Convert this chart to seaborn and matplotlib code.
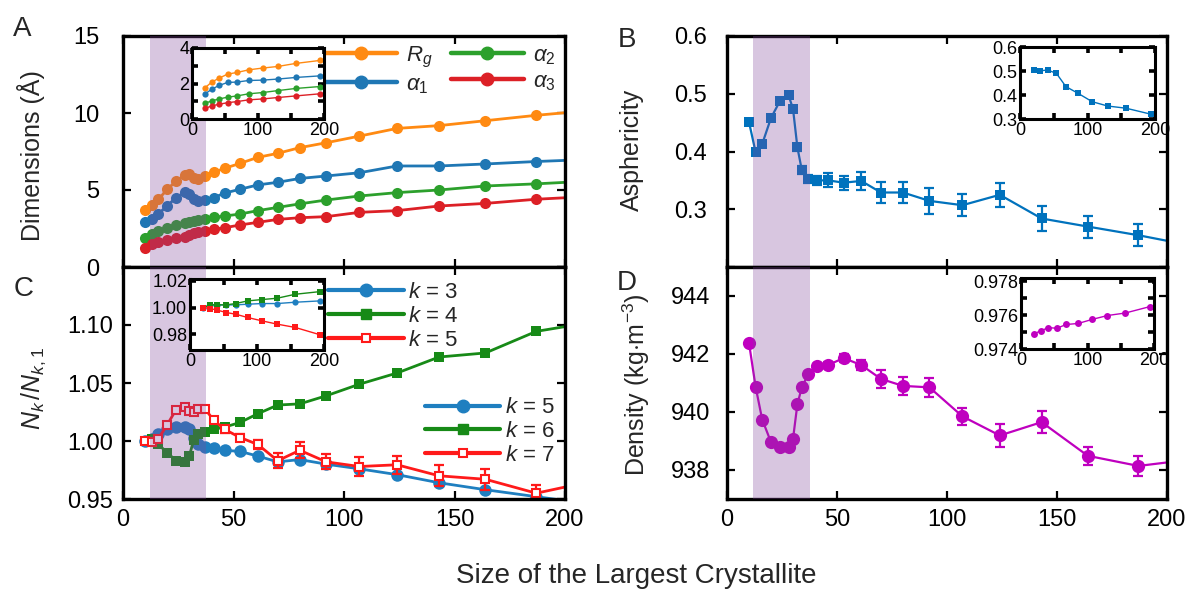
import numpy as np
import pandas as pd
import matplotlib
matplotlib.use("Agg")
import matplotlib.pyplot as plt
import seaborn as sns
from matplotlib.lines import Line2D

# ---------------- data ----------------
size = [10, 13, 16, 20, 24, 28, 30, 32, 34, 37, 41, 46, 53, 61, 70, 80, 92, 107, 124, 143, 164, 187, 214]

# Panel A : dimensions (Angstrom)
rg     = [3.70, 4.03, 4.39, 5.04, 5.58, 5.97, 6.02, 5.76, 5.69, 5.91, 6.15, 6.41, 6.73, 7.12, 7.38, 7.75, 8.07, 8.50, 9.00, 9.18, 9.50, 9.85, 10.20]
alpha1 = [2.94, 3.12, 3.44, 3.98, 4.50, 4.85, 4.74, 4.39, 4.29, 4.35, 4.50, 4.80, 5.05, 5.33, 5.50, 5.75, 5.91, 6.12, 6.56, 6.56, 6.69, 6.85, 7.00]
alpha2 = [1.86, 2.14, 2.36, 2.51, 2.73, 2.88, 2.94, 2.99, 3.05, 3.14, 3.23, 3.31, 3.44, 3.66, 3.87, 4.10, 4.35, 4.61, 4.83, 5.00, 5.26, 5.40, 5.60]
alpha3 = [1.25, 1.49, 1.64, 1.75, 1.86, 1.97, 2.08, 2.19, 2.25, 2.36, 2.45, 2.55, 2.73, 2.90, 3.09, 3.20, 3.27, 3.55, 3.66, 3.96, 4.13, 4.40, 4.60]

# Panel B : asphericity
asph     = [0.451, 0.399, 0.413, 0.458, 0.487, 0.497, 0.474, 0.407, 0.368, 0.353, 0.350, 0.350, 0.346, 0.349, 0.329, 0.329, 0.3145, 0.307, 0.325, 0.284, 0.270, 0.255, 0.235]
asph_err = [0.003, 0.003, 0.004, 0.004, 0.004, 0.004, 0.005, 0.006, 0.007, 0.007, 0.008, 0.012, 0.012, 0.016, 0.019, 0.019, 0.022, 0.019, 0.021, 0.021, 0.019, 0.019, 0.020]

# Panel C : N_k / N_k,1
nk5 = [1.000, 1.002, 1.006, 1.010, 1.012, 1.012, 1.010, 1.003, 0.997, 0.995, 0.994, 0.992, 0.991, 0.987, 0.982, 0.984, 0.980, 0.976, 0.971, 0.964, 0.958, 0.952, 0.945]
nk6 = [1.000, 1.002, 0.997, 0.990, 0.983, 0.982, 0.987, 1.001, 1.006, 1.008, 1.010, 1.012, 1.016, 1.0235, 1.031, 1.032, 1.039, 1.049, 1.0586, 1.0724, 1.0759, 1.0945, 1.103]
nk7 = [1.000, 0.999, 1.002, 1.014, 1.027, 1.029, 1.026, 1.025, 1.028, 1.028, 1.018, 1.010, 1.003, 0.997, 0.983, 0.992, 0.982, 0.978, 0.9795, 0.970, 0.967, 0.955, 0.966]
nk7_err = [0.001, 0.001, 0.001, 0.001, 0.0015, 0.0015, 0.0015, 0.0015, 0.0015, 0.002, 0.002, 0.003, 0.003, 0.004, 0.0065, 0.007, 0.0065, 0.008, 0.008, 0.009, 0.009, 0.0075, 0.008]

# Panel D : density (kg m^-3)
dens     = [942.38, 940.87, 939.74, 938.96, 938.78, 938.78, 939.07, 940.27, 940.85, 941.31, 941.57, 941.62, 941.86, 941.62, 941.14, 940.90, 940.85, 939.85, 939.19, 939.65, 938.49, 938.14, 938.39]
dens_err = [0.03, 0.03, 0.04, 0.04, 0.04, 0.05, 0.05, 0.05, 0.06, 0.07, 0.08, 0.10, 0.13, 0.17, 0.31, 0.32, 0.32, 0.30, 0.38, 0.38, 0.32, 0.33, 0.33]

# Insets
inset_size = [20, 30, 41, 54, 68, 86, 107, 130, 157, 194]
in_rg  = [1.77, 2.08, 2.30, 2.53, 2.62, 2.77, 2.87, 2.96, 3.13, 3.30]
in_a1  = [1.42, 1.68, 1.89, 2.06, 2.08, 2.17, 2.19, 2.25, 2.34, 2.43]
in_a2  = [0.89, 1.02, 1.13, 1.23, 1.30, 1.42, 1.49, 1.60, 1.72, 1.83]
in_a3  = [0.60, 0.74, 0.83, 0.92, 0.98, 1.08, 1.13, 1.21, 1.30, 1.42]
in_asph = [0.504, 0.501, 0.504, 0.490, 0.435, 0.407, 0.372, 0.354, 0.345, 0.320]
in_k3  = [1.000, 1.002, 1.002, 1.002, 1.002, 1.0025, 1.003, 1.003, 1.004, 1.005]
in_k4  = [1.000, 1.002, 1.002, 1.002, 1.003, 1.005, 1.006, 1.007, 1.010, 1.012]
in_k5  = [1.000, 0.99925, 0.998, 0.99625, 0.995, 0.9925, 0.990, 0.9875, 0.985, 0.9795]
in_dens = [0.97491, 0.97508, 0.97526, 0.97523, 0.97545, 0.97551, 0.97575, 0.97598, 0.97613, 0.97651]

shade_range = (12, 37.5)

# ---------------- style ----------------
sns.set_theme(style="ticks")
plt.rcParams["font.family"] = ["Liberation Sans", "DejaVu Sans"]
plt.rcParams["mathtext.fontset"] = "custom"
plt.rcParams["mathtext.rm"] = "Liberation Sans"
plt.rcParams["mathtext.it"] = "Liberation Sans:italic"
plt.rcParams["mathtext.bf"] = "Liberation Sans:bold"

C_OR, C_BL, C_GR, C_RD = "#ff8a12", "#1f77b4", "#2ca02c", "#dc2026"
C_B = "#0072bd"
C_K5, C_K6, C_K7 = "#1f7fc0", "#178a17", "#ff1a1a"
C_D = "#bf00bf"
SHADE = "#814599"

W, H = 1192, 591
fig = plt.figure(figsize=(W / 100, H / 100), dpi=100)


def fx(px):
    return px / W


def fy(py):
    return 1 - py / H


def rect(x0, y0, x1, y1):
    return [fx(x0), fy(y1), fx(x1) - fx(x0), fy(y0) - fy(y1)]


axA = fig.add_axes(rect(123, 36, 565, 267))
axC = fig.add_axes(rect(123, 267, 565, 499))
axB = fig.add_axes(rect(727, 36, 1167, 267))
axD = fig.add_axes(rect(727, 267, 1167, 499))

iA = fig.add_axes(rect(192, 48, 324, 119))
iB = fig.add_axes(rect(1020, 47, 1155, 119))
iC = fig.add_axes(rect(190, 279, 324, 350))
iD = fig.add_axes(rect(1021, 278, 1154, 349))


def line(ax, x, y, color, marker, ms, lw, mfc=None, mew=0.0, z=2):
    sns.lineplot(x=x, y=y, ax=ax, color=color, marker=marker, markersize=ms,
                 linewidth=lw, markeredgecolor=color,
                 markerfacecolor=(mfc if mfc is not None else color),
                 markeredgewidth=mew, estimator=None, sort=False,
                 legend=False, zorder=z)


def ebar(ax, x, y, e, color, lw=1.6, cap=3.5):
    ax.errorbar(x, y, yerr=e, fmt="none", ecolor=color, elinewidth=lw,
                capsize=cap, capthick=lw, zorder=2)


def style_main(ax, xlabels=True, ypad=7):
    for s in ax.spines.values():
        s.set_linewidth(2.4)
        s.set_color("black")
    ax.tick_params(direction="in", top=True, right=True, length=6, width=1.6,
                   labelsize=17, pad=7, colors="black")
    ax.tick_params(axis="y", pad=ypad)
    ax.set_xlim(0, 200)
    ax.set_xticks([0, 50, 100, 150, 200])
    if not xlabels:
        ax.set_xticklabels([])
    ax.set_xlabel("")
    ax.set_ylabel("")


def style_inset(ax, yticks, ylabels, ylim):
    for s in ax.spines.values():
        s.set_linewidth(2.2)
        s.set_color("black")
    ax.set_xlim(0, 200)
    ax.set_ylim(*ylim)
    ax.set_xticks([0, 50, 100, 150, 200])
    ax.set_xticklabels(["0", "", "100", "", "200"])
    ax.set_yticks(yticks)
    ax.set_yticklabels(ylabels)
    ax.tick_params(direction="in", top=True, right=True, length=4, width=2.6,
                   labelsize=13, pad=2, colors="black")
    ax.set_xlabel("")
    ax.set_ylabel("")


def shade(ax):
    ax.axvspan(*shade_range, color=SHADE, alpha=0.3, lw=0, zorder=5)


# ---------- Panel A ----------
for yy, c in [(rg, C_OR), (alpha1, C_BL), (alpha2, C_GR), (alpha3, C_RD)]:
    line(axA, size, yy, c, "o", 8, 2.0)
shade(axA)
style_main(axA, xlabels=False, ypad=17)
axA.set_ylim(0, 15)
axA.set_yticks([0, 5, 10, 15])
hA = [Line2D([], [], color=c, marker="o", ms=9, lw=3.2) for c in (C_OR, C_BL, C_GR, C_RD)]
axA.legend(hA, ["$R_g$", r"$\alpha_1$", r"$\alpha_2$", r"$\alpha_3$"], ncol=2,
           frameon=False, loc="upper left", bbox_to_anchor=(0.455, 0.963),
           borderpad=0, borderaxespad=0, handlelength=3.3, handletextpad=0.4,
           columnspacing=0.8, labelspacing=0.2, fontsize=16)

for yy, c in [(in_rg, C_OR), (in_a1, C_BL), (in_a2, C_GR), (in_a3, C_RD)]:
    line(iA, inset_size, yy, c, "o", 4.5, 1.0)
style_inset(iA, [0, 1, 2, 3, 4], ["0", "", "2", "", "4"], (0, 4))

# ---------- Panel B ----------
ebar(axB, size, asph, asph_err, C_B)
line(axB, size, asph, C_B, "s", 7.5, 1.6)
shade(axB)
style_main(axB, xlabels=False, ypad=14.4)
axB.set_ylim(0.2, 0.6)
axB.set_yticks([0.2, 0.3, 0.4, 0.5, 0.6])
axB.set_yticklabels(["", "0.3", "0.4", "0.5", "0.6"])

line(iB, inset_size, in_asph, C_B, "s", 4.5, 1.0)
style_inset(iB, [0.3, 0.4, 0.5, 0.6], ["0.3", "0.4", "0.5", "0.6"], (0.3, 0.6))

# ---------- Panel C ----------
line(axC, size, nk5, C_K5, "o", 9, 2.0)
line(axC, size, nk6, C_K6, "s", 6.5, 2.0)
ebar(axC, size, nk7, nk7_err, C_K7)
line(axC, size, nk7, C_K7, "s", 5.5, 2.0, mfc="white", mew=1.5)
shade(axC)
style_main(axC, xlabels=True, ypad=7)
axC.set_ylim(0.95, 1.15)
axC.set_yticks([0.95, 1.00, 1.05, 1.10, 1.15])
axC.set_yticklabels(["0.95", "1.00", "1.05", "1.10", ""])

hC1 = [Line2D([], [], color=C_K5, marker="o", ms=9, lw=3.0),
       Line2D([], [], color=C_K6, marker="s", ms=7, lw=3.0),
       Line2D([], [], color=C_K7, marker="s", ms=6, lw=3.0, mfc="white", mew=1.5)]
legC1 = axC.legend(hC1, ["$k$ = 3", "$k$ = 4", "$k$ = 5"], frameon=False,
                   loc="upper left", bbox_to_anchor=(0.464, 0.935), borderpad=0,
                   borderaxespad=0, handlelength=3.4, handletextpad=0.2,
                   labelspacing=0.13, fontsize=16)
axC.add_artist(legC1)
hC2 = [Line2D([], [], color=C_K5, marker="o", ms=9, lw=3.0),
       Line2D([], [], color=C_K6, marker="s", ms=7, lw=3.0),
       Line2D([], [], color=C_K7, marker="s", ms=6, lw=3.0, mfc="white", mew=1.5)]
axC.legend(hC2, ["$k$ = 5", "$k$ = 6", "$k$ = 7"], frameon=False,
           loc="upper left", bbox_to_anchor=(0.683, 0.438), borderpad=0,
           borderaxespad=0, handlelength=3.4, handletextpad=0.2,
           labelspacing=0.13, fontsize=16)

line(iC, inset_size, in_k3, C_K5, "o", 4.5, 1.0)
line(iC, inset_size, in_k4, C_K6, "s", 4.0, 1.0)
line(iC, inset_size, in_k5, C_K7, "s", 4.0, 1.0)
style_inset(iC, [0.98, 1.00, 1.02], ["0.98", "1.00", "1.02"], (0.968, 1.0215))

# ---------- Panel D ----------
ebar(axD, size, dens, dens_err, C_D)
line(axD, size, dens, C_D, "o", 9.5, 1.6)
shade(axD)
style_main(axD, xlabels=True, ypad=12.2)
axD.set_ylim(937, 945)
axD.set_yticks([938, 940, 942, 944])

line(iD, inset_size, in_dens, C_D, "o", 5, 1.0)
style_inset(iD, [0.974, 0.975, 0.976, 0.977, 0.978],
            ["0.974", "", "0.976", "", "0.978"], (0.974, 0.9782))

# ---------- labels ----------
fig.text(fx(31), fy(156), "Dimensions (Å)", rotation=90, ha="center", va="center", fontsize=18)
fig.text(fx(632), fy(150), "Asphericity", rotation=90, ha="center", va="center", fontsize=18)
fig.text(fx(34), fy(388), r"$N_k\,/N_{k,1}$", rotation=90, ha="center", va="center", fontsize=18)
fig.text(fx(636), fy(385), r"Density (kg$\cdot$m$^{-3}$)", rotation=90, ha="center", va="center", fontsize=18)
fig.text(fx(636), fy(576), "Size of the Largest Crystallite", ha="center", va="center", fontsize=20)

for lab, (px, py) in {"A": (22, 29), "B": (627, 40), "C": (24, 289), "D": (627, 283)}.items():
    fig.text(fx(px), fy(py), lab, ha="center", va="center", fontsize=20)

fig.savefig("out.png", dpi=100)
